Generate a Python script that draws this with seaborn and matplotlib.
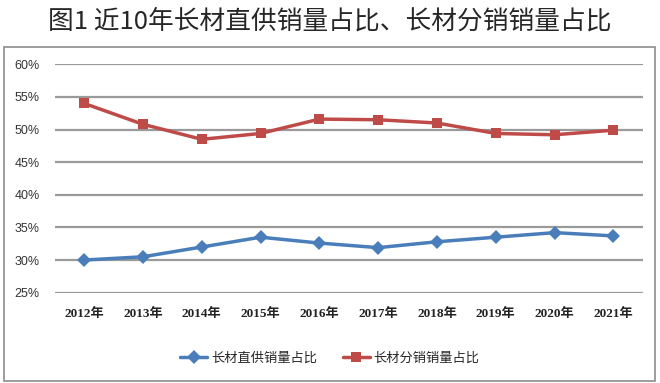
import matplotlib
matplotlib.use("Agg")
import matplotlib.pyplot as plt
from matplotlib.patches import Rectangle
from matplotlib.ticker import PercentFormatter
import numpy as np
import pandas as pd
import seaborn as sns

years = ['2012年', '2013年', '2014年', '2015年', '2016年', '2017年', '2018年', '2019年', '2020年', '2021年']
direct_share = [30.0, 30.5, 32.0, 33.5, 32.6, 31.9, 32.8, 33.5, 34.2, 33.7]
dist_share = [54.0, 50.8, 48.5, 49.4, 51.6, 51.5, 51.0, 49.4, 49.2, 49.9]
series_names = ['长材直供销量占比', '长材分销销量占比']

sns.set_theme(style="white")
plt.rcParams['font.family'] = ['Liberation Sans', 'Noto Sans CJK SC', 'DejaVu Sans']

df = pd.DataFrame({
    'pos': list(range(len(years))) * 2,
    'value': direct_share + dist_share,
    'series': [series_names[0]] * len(years) + [series_names[1]] * len(years),
})

fig = plt.figure(figsize=(6.6, 3.83), dpi=100)
ax = fig.add_axes([0.083, 0.235, 0.891, 0.598])

sns.lineplot(data=df, x='pos', y='value', hue='series', style='series',
             markers={series_names[0]: 'D', series_names[1]: 's'}, dashes=False,
             palette={series_names[0]: '#4a7ebb', series_names[1]: '#be4b48'},
             linewidth=2.5, markersize=7, markeredgewidth=0, ax=ax, legend=True)

ax.set_xlim(-0.5, len(years) - 0.5)
ax.set_ylim(24.95, 60.05)
ax.set_yticks(np.arange(25, 61, 5))
ax.yaxis.set_major_formatter(PercentFormatter(decimals=0))
ax.set_xticks(range(len(years)))
ax.set_xticklabels(years)
ax.set_xlabel('')
ax.set_ylabel('')
ax.grid(axis='y', color='#9a9a9a', linewidth=1.6)
ax.set_axisbelow(True)
for s in ax.spines.values():
    s.set_visible(False)
ax.tick_params(axis='y', labelsize=9, colors='#333333', pad=11, length=0)
ax.tick_params(axis='x', labelsize=9.5, colors='#222222', pad=11, length=0)
for lab in ax.get_xticklabels():
    lab.set_fontweight('bold')
    lab.set_family(['Liberation Serif', 'Noto Sans CJK SC'])

# legend below the axis, centred in the frame
handles, labels = ax.get_legend_handles_labels()
ax.get_legend().remove()
fig.legend(handles, labels, loc='center', bbox_to_anchor=(0.5, 0.065), ncol=2,
           frameon=False, fontsize=9.5, columnspacing=2, handlelength=2, handletextpad=0.3)

fig.text(0.5, 0.945, '图1 近10年长材直供销量占比、长材分销销量占比', ha='center', va='center',
         fontsize=18.5, family=['Noto Sans CJK SC', 'DejaVu Sans'])
fig.patches.append(Rectangle((0.006, 0.004), 0.986, 0.873, transform=fig.transFigure,
                             fill=False, edgecolor='#8c8c8c', linewidth=1.2))

fig.savefig('out.png', dpi=100)
